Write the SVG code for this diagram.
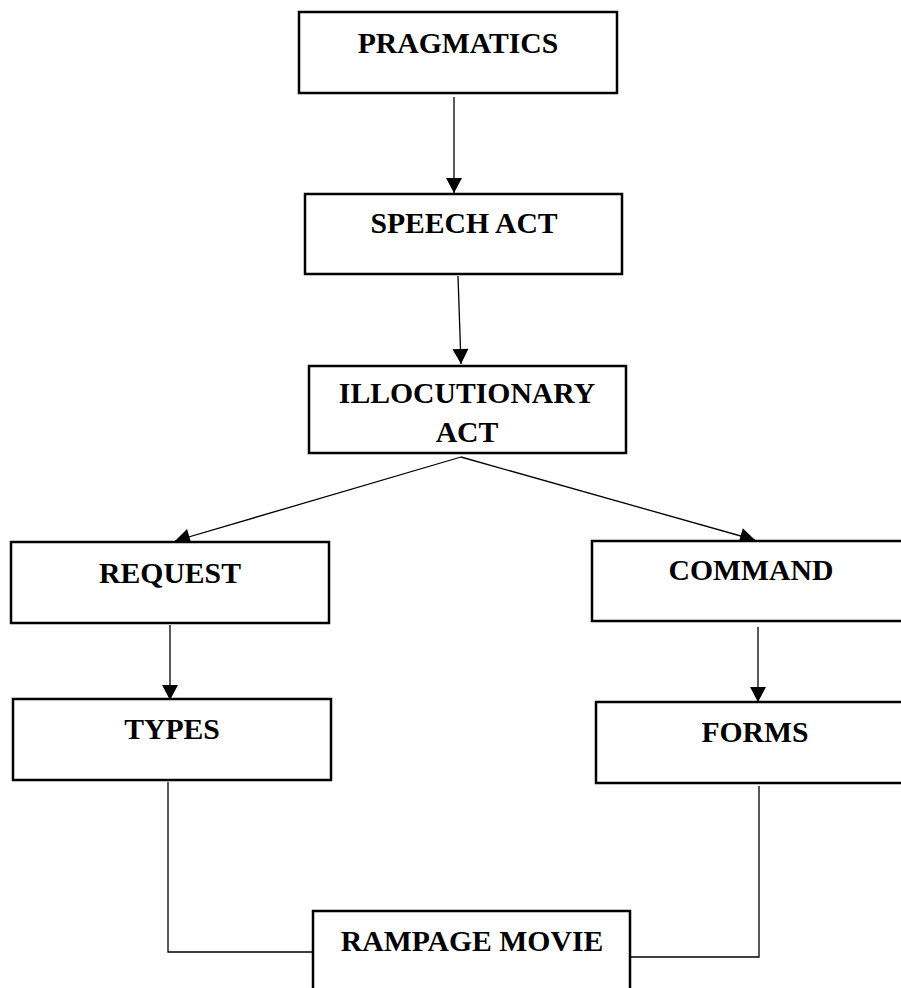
<svg xmlns="http://www.w3.org/2000/svg" width="901" height="988" viewBox="0 0 901 988">
<style>
.box{fill:#fff;stroke:#000;stroke-width:2.5}
.lbl{font-family:"Liberation Serif","Times New Roman",serif;font-weight:bold;font-size:29.7px;fill:#000;text-anchor:middle}
.con{fill:none;stroke:#000;stroke-width:1.3}
</style>
<defs>
<marker id="ah" markerUnits="userSpaceOnUse" markerWidth="16" markerHeight="16" viewBox="0 0 14 15" refX="14" refY="7.5" orient="auto">
<path d="M0,0 L14,7.5 L0,15 z" fill="#000"/>
</marker>
</defs>
<rect width="901" height="988" fill="#fff"/>
<g id="connectors">
<line class="con" x1="454" y1="97" x2="454" y2="193" marker-end="url(#ah)"/>
<line class="con" x1="458" y1="276" x2="461" y2="364" marker-end="url(#ah)"/>
<line class="con" x1="461" y1="457" x2="175" y2="541" marker-end="url(#ah)"/>
<line class="con" x1="461" y1="457" x2="755" y2="540" marker-end="url(#ah)"/>
<line class="con" x1="170" y1="625" x2="170" y2="700" marker-end="url(#ah)"/>
<line class="con" x1="758" y1="627" x2="758" y2="702" marker-end="url(#ah)"/>
<polyline class="con" points="168,782 168,952 313,952"/>
<polyline class="con" points="759,786 759,957 630,957"/>
</g>
<g id="pragmatics">
<rect class="box" x="299" y="12" width="318" height="81"/>
<text class="lbl" x="458" y="53">PRAGMATICS</text>
</g>
<g id="speech-act">
<rect class="box" x="305" y="194" width="317" height="80"/>
<text class="lbl" x="464" y="233">SPEECH ACT</text>
</g>
<g id="illocutionary-act">
<rect class="box" x="309" y="366" width="317" height="87"/>
<text class="lbl" x="467" y="403">ILLOCUTIONARY</text>
<text class="lbl" x="467" y="442">ACT</text>
</g>
<g id="request">
<rect class="box" x="11" y="542" width="318" height="81"/>
<text class="lbl" x="170" y="583">REQUEST</text>
</g>
<g id="command">
<rect class="box" x="592" y="541" width="320" height="80"/>
<text class="lbl" x="751" y="580">COMMAND</text>
</g>
<g id="types">
<rect class="box" x="13" y="699" width="318" height="81"/>
<text class="lbl" x="172" y="739">TYPES</text>
</g>
<g id="forms">
<rect class="box" x="596" y="702" width="316" height="81"/>
<text class="lbl" x="755" y="742">FORMS</text>
</g>
<g id="rampage-movie">
<rect class="box" x="313" y="911" width="317" height="90"/>
<text class="lbl" x="472" y="951">RAMPAGE MOVIE</text>
</g>
</svg>
